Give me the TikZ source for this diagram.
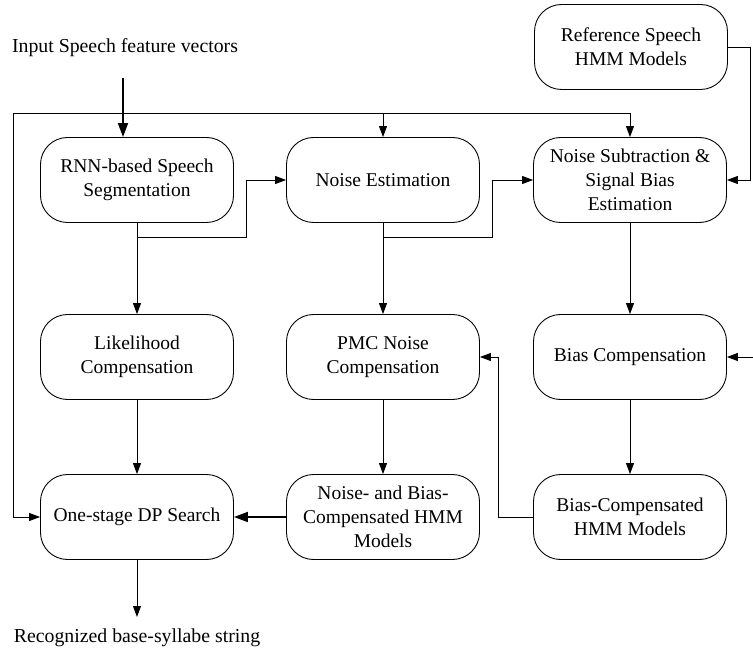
\documentclass[tikz,border=0pt]{standalone}
\usepackage{fontspec}
\setmainfont{Liberation Serif}
\usetikzlibrary{arrows.meta,calc}
\begin{document}
\begin{tikzpicture}[x=1pt,y=-1pt,
  box/.style={draw,line width=0.9pt,rounded corners=27pt,minimum width=193pt,minimum height=85pt,
    align=center,font=\fontsize{19.5}{24}\selectfont,inner sep=2pt},
  lbl/.style={font=\fontsize{19.8}{24}\selectfont},
  conn/.style={line width=0.9pt},
  arr/.style={conn,-{Triangle[length=11pt,width=8pt]}},
  bigarr/.style={line width=1.8pt,-{Triangle[length=14pt,width=10pt]}}]
\useasboundingbox (0,0) rectangle (753,655);

% processing blocks
\node[box] (ref) at (631,47)  {Reference Speech\\HMM Models};
\node[box] (rnn) at (137,180) {RNN-based Speech\\Segmentation};
\node[box] (ne)  at (383,180) {Noise Estimation};
\node[box] (ns)  at (630,180) {Noise Subtraction \&\\Signal Bias\\Estimation};
\node[box] (lik) at (137,357) {Likelihood\\Compensation};
\node[box] (pmc) at (383,357) {PMC Noise\\Compensation};
\node[box] (bc)  at (630,357) {Bias Compensation};
\node[box] (dp)  at (137,517) {One-stage DP Search};
\node[box] (nb)  at (383,517) {Noise- and Bias-\\Compensated HMM\\Models};
\node[box] (bcm) at (630,517) {Bias-Compensated\\HMM Models};

% input and output texts
\node[lbl] (inlbl)  at (125,48)  {Input Speech feature vectors};
\node[lbl] (outlbl) at (137,638) {Recognized base-syllabe string};

% routing points
\coordinate (instart) at (123,78);
\coordinate (busL) at (13,113);
\coordinate (busR) at (ns.north |- busL);
\coordinate (j1) at (246,237);
\coordinate (j2) at (492,237);
\coordinate (j3) at (750,47);
\coordinate (j4) at (498,517);
\coordinate (extbias) at (753,357);
\coordinate (outend) at (137,617);

% input feature vectors
\draw[bigarr] (instart) -- (instart |- rnn.north);

% feature-vector bus
\draw[arr] (busR) -- (busL) -- (busL |- dp.west) -- (dp.west);
\draw[arr] (busR) -- (ns.north);
\draw[arr] (ne.north |- busL) -- (ne.north);

% segmentation and estimation chain
\draw[arr] (rnn.south) |- (j1) |- (ne.west);
\draw[arr] (rnn.south) -- (lik.north);
\draw[arr] (ne.south) |- (j2) |- (ns.west);
\draw[arr] (ne.south) -- (pmc.north);
\draw[arr] (ref.east) -- (j3) |- (ns.east);
\draw[arr] (ns.south) -- (bc.north);
\draw[arr] (extbias) -- (bc.east);
\draw[arr] (bc.south) -- (bcm.north);
\draw[arr] (bcm.west) -- (j4) |- (pmc.east);
\draw[arr] (pmc.south) -- (nb.north);
\draw[arr] (lik.south) -- (dp.north);
\draw[bigarr] (nb.west) -- (dp.east);
\draw[arr] (dp.south) -- (outend);
\end{tikzpicture}
\end{document}
